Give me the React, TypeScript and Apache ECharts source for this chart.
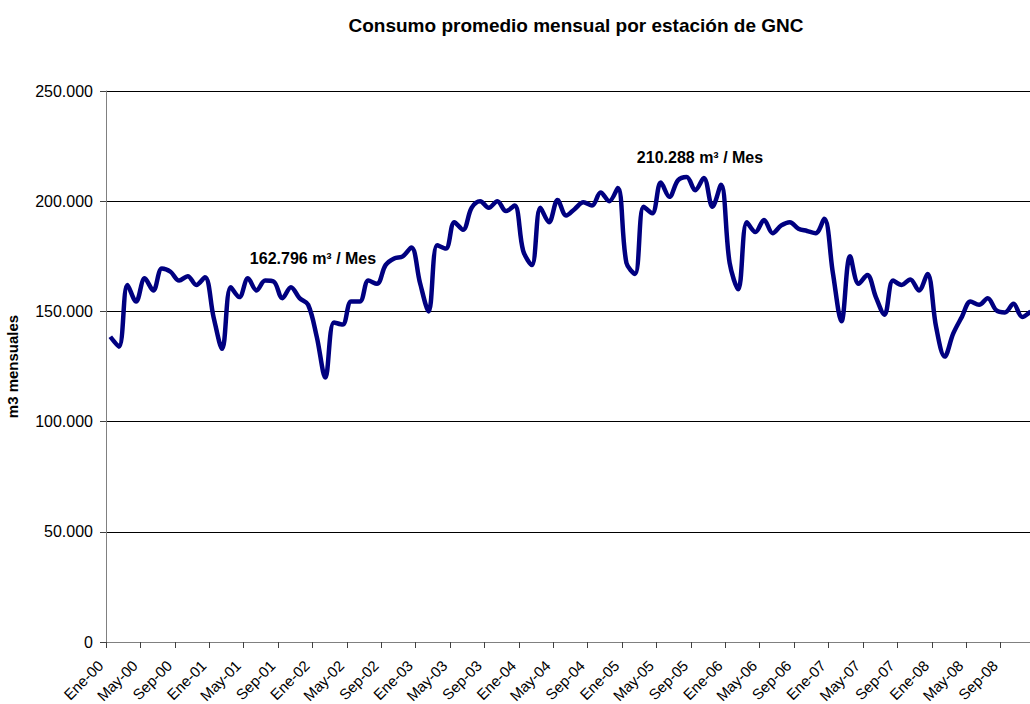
import React, { useEffect, useRef } from "react";
import * as echarts from "echarts";

const MONTHS = ["Ene", "Feb", "Mar", "Abr", "May", "Jun", "Jul", "Ago", "Sep", "Oct", "Nov", "Dic"];
const YEARS = ["00", "01", "02", "03", "04", "05", "06", "07", "08"];
const categories: string[] = [];
YEARS.forEach((y) => MONTHS.forEach((m) => categories.push(`${m}-${y}`)));

const consumo = [
  138500, 134000, 162000, 154500, 165000, 159500, 169500, 168000, 164000, 166000, 162000, 165500,
  147500, 133000, 161000, 156500, 165000, 159500, 164000, 163500, 156000, 161000, 156000, 153000,
  138500, 120000, 145000, 144000, 154500, 154500, 164000, 162500, 171000, 174000, 175000, 179000,
  163000, 150000, 180000, 178500, 190500, 187000, 197000, 200000, 197000, 200000, 195500, 198000,
  177500, 171000, 197000, 190500, 200500, 193500, 196500, 199500, 198000, 204000, 200000, 206000,
  172000, 167000, 197500, 194500, 208500, 202000, 209500, 211000, 205000, 210500, 197500, 207500,
  172000, 160000, 190500, 186000, 191500, 185500, 189000, 190500, 187500, 186500, 185500, 192000,
  167500, 145500, 175000, 162500, 166500, 156500, 148500, 164000, 162000, 164500, 159500, 167000,
  143000, 129500, 140000, 147500, 154500, 153000, 156000, 150500, 149500, 153500, 147500, 150000,
];

const titleText = "Consumo promedio mensual por estación de GNC";
const yAxisName = "m3 mensuales";
const annotations = [
  { text: "162.796 m³ / Mes", x: 313, y: 258 },
  { text: "210.288 m³ / Mes", x: 700, y: 157 },
];

const FONT = "'Liberation Sans', Arial, sans-serif";

export default function App() {
  const ref = useRef<HTMLDivElement>(null);
  useEffect(() => {
    if (!ref.current) return;
    const chart = echarts.init(ref.current, null, { renderer: "svg" });
    chart.setOption({
      animation: false,
      backgroundColor: "#fff",
      textStyle: { fontFamily: FONT },
      grid: {
        left: 106,
        top: 91,
        width: 929,
        height: 551,
        containLabel: false,
        outerBoundsMode: "none",
      },
      xAxis: {
        type: "category",
        data: categories,
        boundaryGap: true,
        axisLine: { lineStyle: { color: "#808080", width: 1 } },
        axisTick: { show: true, interval: 3, length: 6, lineStyle: { color: "#404040", width: 1 } },
        axisLabel: {
          interval: 3,
          rotate: 45,
          fontSize: 15,
          color: "#000",
          fontFamily: FONT,
          margin: 11,
          padding: [0, 14, 0, 0],
        },
        splitLine: { show: false },
      },
      yAxis: {
        type: "value",
        min: 0,
        max: 250000,
        interval: 50000,
        name: yAxisName,
        nameLocation: "middle",
        nameRotate: 90,
        nameGap: 86,
        nameTextStyle: { fontSize: 15, fontWeight: "bold", color: "#000", fontFamily: FONT },
        axisLine: { show: true, lineStyle: { color: "#808080", width: 1 } },
        axisTick: { show: true, length: 6, lineStyle: { color: "#404040", width: 1 } },
        axisLabel: {
          fontSize: 16,
          color: "#000",
          fontFamily: FONT,
          margin: 13,
          formatter: (v: number) => (v === 0 ? "0" : `${Math.round(v / 1000)}.000`),
        },
        splitLine: { show: true, lineStyle: { color: "#000", width: 1 } },
      },
      series: [
        {
          type: "line",
          data: consumo,
          smooth: 0.35,
          symbol: "none",
          lineStyle: { color: "#000080", width: 4.5 },
        },
      ],
      graphic: [
        {
          type: "text",
          x: 576,
          y: 25,
          style: {
            text: titleText,
            fontSize: 19,
            fontWeight: "bold",
            fill: "#000",
            fontFamily: FONT,
            textAlign: "center",
            textVerticalAlign: "middle",
          },
        },
        ...annotations.map((a) => ({
          type: "text",
          x: a.x,
          y: a.y,
          style: {
            text: a.text,
            fontSize: 16,
            fontWeight: "bold",
            fill: "#000",
            fontFamily: FONT,
            textAlign: "center",
            textVerticalAlign: "middle",
          },
        })),
      ],
    });
    return () => chart.dispose();
  }, []);
  return (
    <div style={{ position: "fixed", left: 0, top: 0, width: 1030, height: 704, overflow: "hidden", background: "#fff" }}>
      <div ref={ref} style={{ width: 1040, height: 704 }} />
    </div>
  );
}
